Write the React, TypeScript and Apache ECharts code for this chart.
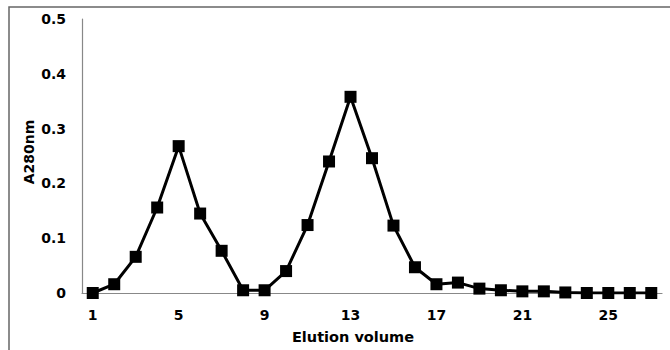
import React, { useEffect, useRef } from "react";
import * as echarts from "echarts";

const categories = Array.from({ length: 27 }, (_, i) => String(i + 1));
const absorbance = [
  0, 0.016, 0.066, 0.156, 0.268, 0.145, 0.077, 0.005, 0.005, 0.04, 0.124, 0.24, 0.358,
  0.246, 0.123, 0.047, 0.016, 0.019, 0.008, 0.005, 0.003, 0.003, 0.001, 0, 0, 0, 0,
];
const xName = "Elution volume";
const yName = "A280nm";

export default function App() {
  const ref = useRef<HTMLDivElement>(null);
  useEffect(() => {
    if (!ref.current) return;
    const chart = echarts.init(ref.current, null, { renderer: "svg" });
    const font = "'DejaVu Sans', 'Liberation Sans', Arial, sans-serif";
    chart.setOption({
      animation: false,
      backgroundColor: "#ffffff",
      grid: { left: 82, top: 19, right: 8, bottom: 57, containLabel: false },
      xAxis: {
        type: "category",
        data: categories,
        boundaryGap: true,
        axisLine: { lineStyle: { color: "#888888", width: 1.2 } },
        axisTick: { show: false },
        axisLabel: {
          interval: 3,
          margin: 15,
          color: "#000000",
          fontWeight: "bold",
          fontSize: 14,
          fontFamily: font,
        },
      },
      yAxis: {
        type: "value",
        min: 0,
        max: 0.5,
        interval: 0.1,
        axisLine: { show: true, lineStyle: { color: "#888888", width: 1.2 } },
        axisTick: { show: false },
        splitLine: { show: false },
        axisLabel: {
          margin: 16,
          color: "#000000",
          fontWeight: "bold",
          fontSize: 14,
          fontFamily: font,
          formatter: (v: number) => (v === 0 ? "0" : v.toFixed(1)),
        },
      },
      series: [
        {
          type: "line",
          data: absorbance,
          symbol: "rect",
          symbolSize: 12,
          itemStyle: { color: "#000000" },
          lineStyle: { color: "#000000", width: 3 },
        },
      ],
      graphic: [
        {
          type: "polyline",
          shape: { points: [[9, 350], [9, 7], [670, 7]] },
          style: { stroke: "#666666", lineWidth: 1.5, fill: "none" },
        },
        {
          type: "text",
          x: 353,
          y: 337,
          style: {
            text: xName,
            font: `bold 14.5px ${font}`,
            fill: "#000000",
            textAlign: "center",
            textVerticalAlign: "middle",
          },
        },
        {
          type: "text",
          x: 29,
          y: 152,
          rotation: Math.PI / 2,
          style: {
            text: yName,
            font: `bold 14px ${font}`,
            fill: "#000000",
            textAlign: "center",
            textVerticalAlign: "middle",
          },
        },
      ],
    });
    return () => chart.dispose();
  }, []);
  return (
    <div
      ref={ref}
      style={{ position: "fixed", left: 0, top: 0, width: 670, height: 350 }}
    />
  );
}
